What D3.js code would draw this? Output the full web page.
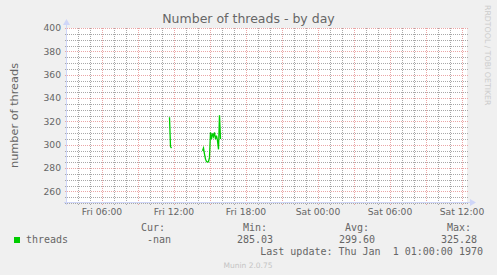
<!DOCTYPE html>
<html>
<head>
<meta charset="utf-8">
<script src="https://cdn.jsdelivr.net/npm/d3@7"></script>
<style>
  html, body { margin: 0; padding: 0; background: #f0f0f0; }
  svg { display: block; }
  text { fill: #666666; }
  .sans { font-family: "DejaVu Sans", sans-serif; }
  .mono { font-family: "DejaVu Sans Mono", monospace; font-size: 10px; white-space: pre; }
</style>
</head>
<body>
<svg id="chart" width="497" height="275"></svg>
<script>
// series: number of threads (Fri, 5 minute samples), null = no data
const sampleTimes = ["11:35", "11:40", "11:45", "11:50",
  "14:15", "14:20", "14:25", "14:30", "14:35", "14:40", "14:45", "14:50", "14:55",
  "15:00", "15:05", "15:10", "15:15", "15:20", "15:25", "15:30", "15:35",
  "15:40", "15:45", "15:50"];
const threadValues = [323.5, 298.3, 297.1, null,
  null, 294.8, 297.1, 291.9, 287.6, 285.5, 285.03, 285.4, 289.1,
  310.6, 304.8, 309.7, 306.9, 310.6, 304.8, 307.7, 303.4,
  296.0, 325.28, 304.8];

const yTicks = [260, 280, 300, 320, 340, 360, 380, 400];
const legendLabels = ["Cur:", "Min:", "Avg:", "Max:"];
const legendValues = ["-nan", "285.03", "299.60", "325.28"];

const W = 497, H = 275;
const canvas = {left: 67, right: 467, top: 28, bottom: 203};

// day graph: 400 px at 300 s per px
const day = Date.UTC(2024, 0, 5); // a Friday
const start = new Date(day + (3 * 60 + 5) * 60000);
const end = new Date(start.getTime() + 400 * 300 * 1000);
const parseT = s => { const [h, m] = s.split(":").map(Number); return new Date(day + (h * 60 + m) * 60000); };

const x = d3.scaleUtc().domain([start, end]).range([canvas.left, canvas.right]);
const y = d3.scaleLinear().domain([250, 400]).range([canvas.bottom, canvas.top]);

const svg = d3.select("#chart");
svg.append("rect").attr("width", W).attr("height", H).attr("fill", "#f0f0f0");
svg.append("rect")
  .attr("x", canvas.left).attr("y", canvas.top)
  .attr("width", canvas.right - canvas.left).attr("height", canvas.bottom - canvas.top)
  .attr("fill", "#ffffff");

const crisp = v => Math.round(v) + 0.5;
const minorCol = "#a8a8a8", majorCol = "#eaa6a6";

// dotted grid line helper
function gridLines(data, cls, col, horizontal) {
  const g = svg.append("g").attr("class", cls);
  g.selectAll("line").data(data).enter().append("line")
    .attr("x1", d => horizontal ? canvas.left - 2 : crisp(x(d)))
    .attr("x2", d => horizontal ? canvas.right + 2 : crisp(x(d)))
    .attr("y1", d => horizontal ? crisp(y(d)) : canvas.top)
    .attr("y2", d => horizontal ? crisp(y(d)) : canvas.bottom + 2)
    .attr("stroke", col)
    .attr("stroke-width", 1)
    .attr("stroke-dasharray", "1 1");
}

const yMinor = d3.range(250, 401, 5).filter(v => v % 20 !== 0);
const xMinor = d3.utcHour.range(start, end).filter(d => d.getUTCHours() % 3 !== 0);
const xMajor = d3.utcHour.every(3).range(start, end);
gridLines(yMinor, "hmin", minorCol, true);
gridLines(xMinor, "vmin", minorCol, false);
gridLines(yTicks, "hmaj", majorCol, true);
gridLines(xMajor, "vmaj", majorCol, false);

// data line
const pts = sampleTimes.map((t, i) => ({t: parseT(t), v: threadValues[i]}));
const line = d3.line().defined(d => d.v != null).x(d => x(d.t) + 0.5).y(d => y(d.v));
svg.append("path").datum(pts)
  .attr("d", line)
  .attr("fill", "none").attr("stroke", "#00cc00").attr("stroke-width", 1.3);

// axes
const axisCol = "#cfd6f8";
svg.append("line").attr("x1", canvas.left - 0.5).attr("x2", canvas.left - 0.5)
  .attr("y1", canvas.bottom + 2).attr("y2", canvas.top - 4)
  .attr("stroke", axisCol);
svg.append("path")
  .attr("d", `M${canvas.left - 4},${canvas.top - 3} L${canvas.left - 0.5},${canvas.top - 9} L${canvas.left + 3},${canvas.top - 3} Z`)
  .attr("fill", axisCol);
svg.append("line").attr("x1", canvas.left - 3).attr("x2", canvas.right + 4)
  .attr("y1", canvas.bottom - 0.5).attr("y2", canvas.bottom - 0.5)
  .attr("stroke", axisCol);
svg.append("path")
  .attr("d", `M${canvas.right + 3},${canvas.bottom - 4} L${canvas.right + 9},${canvas.bottom - 0.5} L${canvas.right + 3},${canvas.bottom + 3} Z`)
  .attr("fill", axisCol);

// tick labels
svg.append("g").selectAll("text").data(yTicks).enter().append("text")
  .attr("class", "sans").attr("font-size", 9.2)
  .attr("text-anchor", "end")
  .attr("x", canvas.left - 6).attr("y", d => y(d) + 3.3)
  .text(d => d);
const fmt = d3.utcFormat("%a %H:%M");
svg.append("g").selectAll("text").data(d3.utcHour.every(6).range(start, end)).enter().append("text")
  .attr("class", "sans").attr("font-size", 9.2)
  .attr("text-anchor", "middle")
  .attr("x", d => x(d)).attr("y", 215)
  .text(d => fmt(d));

// titles
svg.append("text").attr("class", "sans").attr("font-size", 12.5)
  .attr("text-anchor", "middle").attr("x", 248.5).attr("y", 23)
  .text("Number of threads - by day");
svg.append("text").attr("class", "sans").attr("font-size", 11.3)
  .attr("text-anchor", "middle")
  .attr("transform", `translate(18,${(canvas.top + canvas.bottom) / 2}) rotate(-90)`)
  .text("number of threads");
svg.append("text").attr("class", "sans").attr("font-size", 7.8)
  .style("fill", "#cccccc")
  .attr("transform", "translate(484.5,5) rotate(90)")
  .text("RRDTOOL / TOBI OETIKER");

// legend
svg.append("rect").attr("x", 14).attr("y", 237).attr("width", 6).attr("height", 6).attr("fill", "#00cc00");
svg.append("text").attr("class", "mono").attr("x", 26).attr("y", 243).text("threads");
const colStart = [135, 237, 339, 441];
svg.append("g").selectAll("text").data(legendLabels).enter().append("text")
  .attr("class", "mono").attr("x", (d, i) => colStart[i] + 6).attr("y", 231).text(d => d);
svg.append("g").selectAll("text").data(legendValues).enter().append("text")
  .attr("class", "mono").attr("text-anchor", "end")
  .attr("x", (d, i) => colStart[i] + 36.1).attr("y", 243).text(d => d);
svg.append("text").attr("class", "mono").attr("text-anchor", "end")
  .attr("x", 483).attr("y", 255)
  .text("Last update: Thu Jan  1 01:00:00 1970");
svg.append("text").attr("class", "sans").attr("font-size", 7.5)
  .style("fill", "#c4c4c4")
  .attr("text-anchor", "middle").attr("x", 248).attr("y", 268)
  .text("Munin 2.0.75");
</script>
</body>
</html>
